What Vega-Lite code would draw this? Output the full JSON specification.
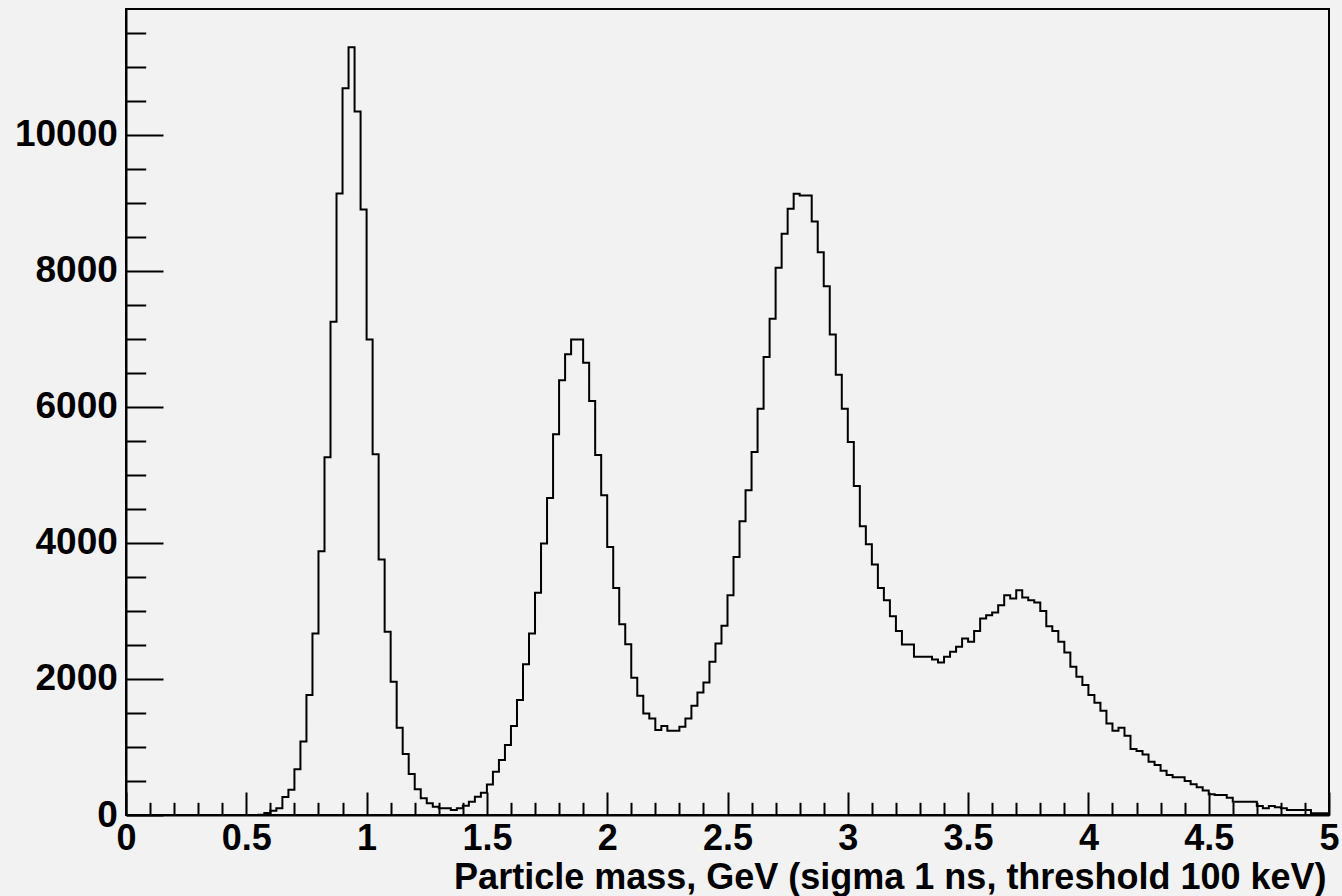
{
  "$schema": "https://vega.github.io/schema/vega-lite/v6.json",
  "width": 1203,
  "height": 806,
  "autosize": {"type": "none"},
  "padding": {"left": 126, "top": 9, "right": 13, "bottom": 81},
  "background": "#f2f2f2",
  "config": {"view": {"stroke": "black", "strokeWidth": 2, "fill": "#f2f2f2"}},
  "data": {"values": [
    {"mass": 0.0, "count": 0}, {"mass": 0.025, "count": 0}, {"mass": 0.05, "count": 0}, {"mass": 0.075, "count": 0},
    {"mass": 0.1, "count": 0}, {"mass": 0.125, "count": 0}, {"mass": 0.15, "count": 0}, {"mass": 0.175, "count": 0},
    {"mass": 0.2, "count": 0}, {"mass": 0.225, "count": 0}, {"mass": 0.25, "count": 0}, {"mass": 0.275, "count": 0},
    {"mass": 0.3, "count": 0}, {"mass": 0.325, "count": 0}, {"mass": 0.35, "count": 0}, {"mass": 0.375, "count": 0},
    {"mass": 0.4, "count": 0}, {"mass": 0.425, "count": 0}, {"mass": 0.45, "count": 0}, {"mass": 0.475, "count": 0},
    {"mass": 0.5, "count": 0}, {"mass": 0.525, "count": 0}, {"mass": 0.55, "count": 5}, {"mass": 0.575, "count": 30},
    {"mass": 0.6, "count": 63}, {"mass": 0.625, "count": 98}, {"mass": 0.65, "count": 264}, {"mass": 0.675, "count": 372},
    {"mass": 0.7, "count": 671}, {"mass": 0.725, "count": 1082}, {"mass": 0.75, "count": 1762}, {"mass": 0.775, "count": 2668},
    {"mass": 0.8, "count": 3877}, {"mass": 0.825, "count": 5257}, {"mass": 0.85, "count": 7250}, {"mass": 0.875, "count": 9136},
    {"mass": 0.9, "count": 10680}, {"mass": 0.925, "count": 11282}, {"mass": 0.95, "count": 10338}, {"mass": 0.975, "count": 8900},
    {"mass": 1.0, "count": 6990}, {"mass": 1.025, "count": 5301}, {"mass": 1.05, "count": 3755}, {"mass": 1.075, "count": 2692},
    {"mass": 1.1, "count": 1958}, {"mass": 1.125, "count": 1282}, {"mass": 1.15, "count": 896}, {"mass": 1.175, "count": 602},
    {"mass": 1.2, "count": 377}, {"mass": 1.225, "count": 245}, {"mass": 1.25, "count": 172}, {"mass": 1.275, "count": 122},
    {"mass": 1.3, "count": 98}, {"mass": 1.325, "count": 98}, {"mass": 1.35, "count": 73}, {"mass": 1.375, "count": 98},
    {"mass": 1.4, "count": 137}, {"mass": 1.425, "count": 196}, {"mass": 1.45, "count": 269}, {"mass": 1.475, "count": 328},
    {"mass": 1.5, "count": 450}, {"mass": 1.525, "count": 636}, {"mass": 1.55, "count": 808}, {"mass": 1.575, "count": 1028},
    {"mass": 1.6, "count": 1307}, {"mass": 1.625, "count": 1689}, {"mass": 1.65, "count": 2217}, {"mass": 1.675, "count": 2668},
    {"mass": 1.7, "count": 3265}, {"mass": 1.725, "count": 3990}, {"mass": 1.75, "count": 4659}, {"mass": 1.775, "count": 5595},
    {"mass": 1.8, "count": 6388}, {"mass": 1.825, "count": 6770}, {"mass": 1.85, "count": 6990}, {"mass": 1.875, "count": 6990},
    {"mass": 1.9, "count": 6648}, {"mass": 1.925, "count": 6084}, {"mass": 1.95, "count": 5291}, {"mass": 1.975, "count": 4699},
    {"mass": 2.0, "count": 3940}, {"mass": 2.025, "count": 3338}, {"mass": 2.05, "count": 2805}, {"mass": 2.075, "count": 2511},
    {"mass": 2.1, "count": 2016}, {"mass": 2.125, "count": 1752}, {"mass": 2.15, "count": 1493}, {"mass": 2.175, "count": 1420},
    {"mass": 2.2, "count": 1248}, {"mass": 2.225, "count": 1307}, {"mass": 2.25, "count": 1238}, {"mass": 2.275, "count": 1238},
    {"mass": 2.3, "count": 1297}, {"mass": 2.325, "count": 1420}, {"mass": 2.35, "count": 1605}, {"mass": 2.375, "count": 1802},
    {"mass": 2.4, "count": 1949}, {"mass": 2.425, "count": 2251}, {"mass": 2.45, "count": 2521}, {"mass": 2.475, "count": 2780},
    {"mass": 2.5, "count": 3231}, {"mass": 2.525, "count": 3793}, {"mass": 2.55, "count": 4317}, {"mass": 2.575, "count": 4772},
    {"mass": 2.6, "count": 5335}, {"mass": 2.625, "count": 5972}, {"mass": 2.65, "count": 6730}, {"mass": 2.675, "count": 7293},
    {"mass": 2.7, "count": 8042}, {"mass": 2.725, "count": 8542}, {"mass": 2.75, "count": 8909}, {"mass": 2.775, "count": 9129},
    {"mass": 2.8, "count": 9104}, {"mass": 2.825, "count": 9104}, {"mass": 2.85, "count": 8722}, {"mass": 2.875, "count": 8272},
    {"mass": 2.9, "count": 7773}, {"mass": 2.925, "count": 7063}, {"mass": 2.95, "count": 6472}, {"mass": 2.975, "count": 5972},
    {"mass": 3.0, "count": 5482}, {"mass": 3.025, "count": 4836}, {"mass": 3.05, "count": 4244}, {"mass": 3.075, "count": 3979},
    {"mass": 3.1, "count": 3681}, {"mass": 3.125, "count": 3338}, {"mass": 3.15, "count": 3157}, {"mass": 3.175, "count": 2922},
    {"mass": 3.2, "count": 2706}, {"mass": 3.225, "count": 2507}, {"mass": 3.25, "count": 2507}, {"mass": 3.275, "count": 2325},
    {"mass": 3.3, "count": 2325}, {"mass": 3.325, "count": 2325}, {"mass": 3.35, "count": 2286}, {"mass": 3.375, "count": 2242},
    {"mass": 3.4, "count": 2325}, {"mass": 3.425, "count": 2398}, {"mass": 3.45, "count": 2471}, {"mass": 3.475, "count": 2594},
    {"mass": 3.5, "count": 2545}, {"mass": 3.525, "count": 2706}, {"mass": 3.55, "count": 2888}, {"mass": 3.575, "count": 2937},
    {"mass": 3.6, "count": 2976}, {"mass": 3.625, "count": 3084}, {"mass": 3.65, "count": 3231}, {"mass": 3.675, "count": 3182},
    {"mass": 3.7, "count": 3304}, {"mass": 3.725, "count": 3196}, {"mass": 3.75, "count": 3157}, {"mass": 3.775, "count": 3123},
    {"mass": 3.8, "count": 3000}, {"mass": 3.825, "count": 2775}, {"mass": 3.85, "count": 2706}, {"mass": 3.875, "count": 2545},
    {"mass": 3.9, "count": 2389}, {"mass": 3.925, "count": 2178}, {"mass": 3.95, "count": 2031}, {"mass": 3.975, "count": 1909},
    {"mass": 4.0, "count": 1762}, {"mass": 4.025, "count": 1649}, {"mass": 4.05, "count": 1532}, {"mass": 4.075, "count": 1346},
    {"mass": 4.1, "count": 1238}, {"mass": 4.125, "count": 1282}, {"mass": 4.15, "count": 1164}, {"mass": 4.175, "count": 969},
    {"mass": 4.2, "count": 940}, {"mass": 4.225, "count": 891}, {"mass": 4.25, "count": 783}, {"mass": 4.275, "count": 734},
    {"mass": 4.3, "count": 651}, {"mass": 4.325, "count": 587}, {"mass": 4.35, "count": 554}, {"mass": 4.375, "count": 554},
    {"mass": 4.4, "count": 499}, {"mass": 4.425, "count": 451}, {"mass": 4.45, "count": 407}, {"mass": 4.475, "count": 360},
    {"mass": 4.5, "count": 304}, {"mass": 4.525, "count": 294}, {"mass": 4.55, "count": 294}, {"mass": 4.575, "count": 254},
    {"mass": 4.6, "count": 196}, {"mass": 4.625, "count": 196}, {"mass": 4.65, "count": 196}, {"mass": 4.675, "count": 196},
    {"mass": 4.7, "count": 132}, {"mass": 4.725, "count": 98}, {"mass": 4.75, "count": 132}, {"mass": 4.775, "count": 113},
    {"mass": 4.8, "count": 98}, {"mass": 4.825, "count": 73}, {"mass": 4.85, "count": 73}, {"mass": 4.875, "count": 73},
    {"mass": 4.9, "count": 73}, {"mass": 4.925, "count": 25}, {"mass": 4.95, "count": 25}, {"mass": 4.975, "count": 25},
    {"mass": 5.0, "count": 25}
  ]},
  "mark": {"type": "line", "interpolate": "step-after", "color": "black", "strokeWidth": 2, "clip": true},
  "encoding": {
    "x": {
      "field": "mass", "type": "quantitative",
      "scale": {"domain": [0, 5], "nice": false, "zero": false},
      "axis": {
        "values": [0,0.1,0.2,0.3,0.4,0.5,0.6,0.7,0.8,0.9,1,1.1,1.2,1.3,1.4,1.5,1.6,1.7,1.8,1.9,2,2.1,2.2,2.3,2.4,2.5,2.6,2.7,2.8,2.9,3,3.1,3.2,3.3,3.4,3.5,3.6,3.7,3.8,3.9,4,4.1,4.2,4.3,4.4,4.5,4.6,4.7,4.8,4.9,5],
        "format": "~g",
        "labelExpr": "abs(datum.value*2 - round(datum.value*2)) < 0.001 ? datum.label : ''",
        "tickSize": {"condition": {"test": "abs(datum.value*2 - round(datum.value*2)) < 0.001", "value": -23}, "value": -12.7},
        "tickColor": "black", "tickWidth": 2,
        "domainColor": "black", "domainWidth": 2,
        "grid": false,
        "labelFlush": false, "labelOverlap": false, "labelBound": false,
        "labelFont": "Liberation Sans", "labelFontWeight": "bold", "labelFontSize": 36, "labelColor": "black",
        "labelBaseline": "alphabetic", "labelPadding": 57,
        "title": "Particle mass, GeV (sigma 1 ns, threshold 100 keV)",
        "titleFont": "Liberation Sans", "titleFontWeight": "bold", "titleFontSize": 36, "titleColor": "black",
        "titleAlign": "right", "titleAnchor": "end", "titleX": 1200, "titleY": 73, "titleBaseline": "alphabetic"
      }
    },
    "y": {
      "field": "count", "type": "quantitative",
      "scale": {"domain": [0, 11846], "nice": false},
      "axis": {
        "values": [0,500,1000,1500,2000,2500,3000,3500,4000,4500,5000,5500,6000,6500,7000,7500,8000,8500,9000,9500,10000,10500,11000,11500],
        "format": "d",
        "labelExpr": "datum.value % 2000 === 0 ? datum.label : ''",
        "tickSize": {"condition": {"test": "datum.value % 2000 === 0", "value": -37}, "value": -19.7},
        "tickColor": "black", "tickWidth": 2,
        "domainColor": "black", "domainWidth": 2,
        "grid": false,
        "labelFlush": false, "labelOverlap": false, "labelBound": false,
        "labelFont": "Liberation Sans", "labelFontWeight": "bold", "labelFontSize": 37, "labelColor": "black",
        "labelBaseline": "middle", "labelAlign": "right", "labelPadding": 45.7,
        "title": null
      }
    }
  }
}
